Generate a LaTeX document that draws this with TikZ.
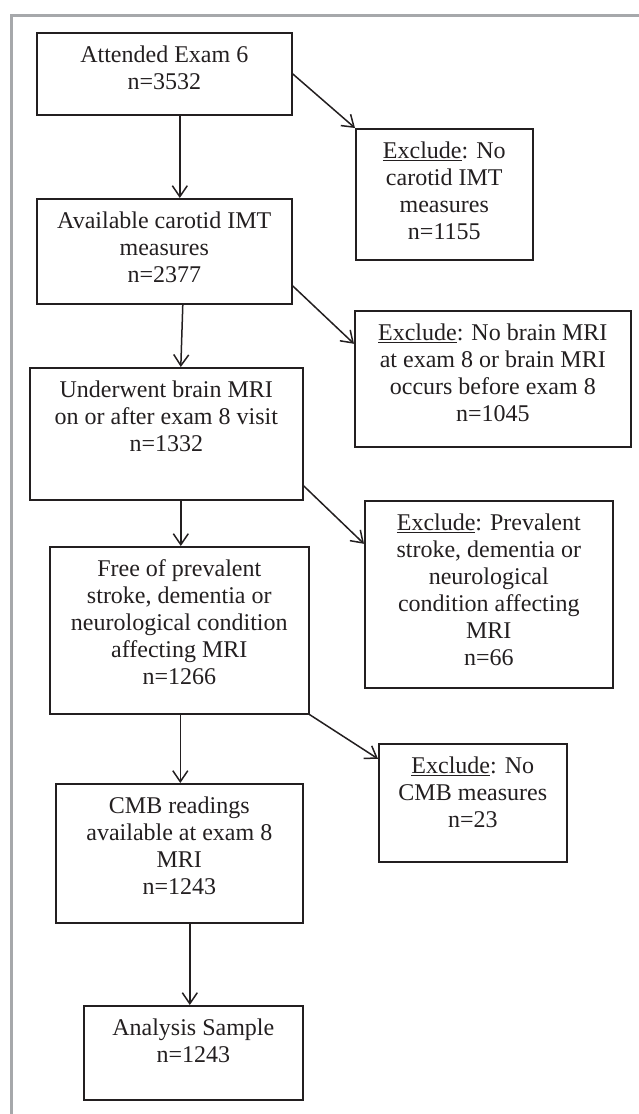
\documentclass[tikz,border=0pt]{standalone}
\usepackage{fontspec}
\setmainfont{Liberation Serif}
\usepackage{xcolor}
\usetikzlibrary{arrows.meta}

\definecolor{framegray}{HTML}{A6A8AB}
\definecolor{inkblack}{HTML}{231F20}
% text of a box, set from the top down
\newcommand{\stagetext}[3]{\parbox[t][#2][t]{#1}{\centering\rule{0pt}{30pt}#3}}

\tikzset{
  stage/.style={draw=inkblack, line width=1.6pt, inner sep=0pt, anchor=north west,
    text=inkblack, font=\fontsize{24pt}{27pt}\selectfont},
  flow/.style={draw=inkblack, line width=1.5pt, -{Straight Barb[length=11pt,width=15pt]}},
  frameline/.style={draw=framegray, line width=3pt}
}

\begin{document}
\begin{tikzpicture}[x=1pt, y=-1pt]
\useasboundingbox (0,0) rectangle (639,1114);
% frame
\draw[frameline] (11.5,1114) |- (639,15);

% Sample flow
\node[stage] (attend) at (36,32) {\stagetext{255pt}{82pt}{Attended Exam 6\\ n=3532}};
\node[stage] (carotid) at (36,198) {\stagetext{255pt}{105pt}{Available carotid IMT\\ measures\\ n=2377}};
\node[stage] (mri) at (29,367) {\stagetext{273pt}{132pt}{Underwent brain MRI\\ on or after exam 8 visit\\ n=1332}};
\node[stage] (free) at (49,546) {\stagetext{259pt}{167pt}{Free of prevalent\\ stroke, dementia or\\ neurological condition\\ affecting MRI\\ n=1266}};
\node[stage] (cmb) at (55,783) {\stagetext{247pt}{139pt}{CMB readings\\ available at exam 8\\ MRI\\ n=1243}};
\node[stage] (sample) at (83,1005) {\stagetext{219pt}{94pt}{Analysis Sample\\ n=1243}};

% Exclusions
\node[stage] (noimt) at (355,128) {\stagetext{177pt}{131pt}{\underline{Exclude}: No\\ carotid IMT\\ measures\\ n=1155}};
\node[stage] (nomri) at (354,310) {\stagetext{276pt}{136pt}{\underline{Exclude}: No brain MRI\\ at exam 8 or brain MRI\\ occurs before exam 8\\ n=1045}};
\node[stage] (prevexcl) at (364,500) {\stagetext{248pt}{187pt}{\underline{Exclude}: Prevalent\\ stroke, dementia or\\ neurological\\ condition affecting\\ MRI\\ n=66}};
\node[stage] (nocmb) at (378,743) {\stagetext{188pt}{118pt}{\underline{Exclude}: No\\ CMB measures\\ n=23}};

% Arrows down
\draw[flow] ([xshift=15.5pt]attend.south) -- ([xshift=15.5pt]carotid.north);
\draw[flow] ([xshift=18.5pt]carotid.south) -- ([xshift=14.5pt]mri.north);
\draw[flow] ([xshift=14.5pt]mri.south) -- ([xshift=1.5pt]free.north);
\draw[flow] ([xshift=1pt]free.south) -- ([xshift=1pt]cmb.north);
\draw[flow] ([xshift=10.5pt]cmb.south) -- ([xshift=-3.5pt]sample.north);

% Arrows to exclusions
\draw[flow] (attend.east) -- (noimt.north west);
\draw[flow] ([yshift=-34.5pt]carotid.east) -- ([yshift=35pt]nomri.west);
\draw[flow] ([yshift=-52pt]mri.east) -- ([yshift=50.5pt]prevexcl.west);
\draw[flow] (free.south east) -- ([yshift=44pt]nocmb.west);

\end{tikzpicture}
\end{document}
